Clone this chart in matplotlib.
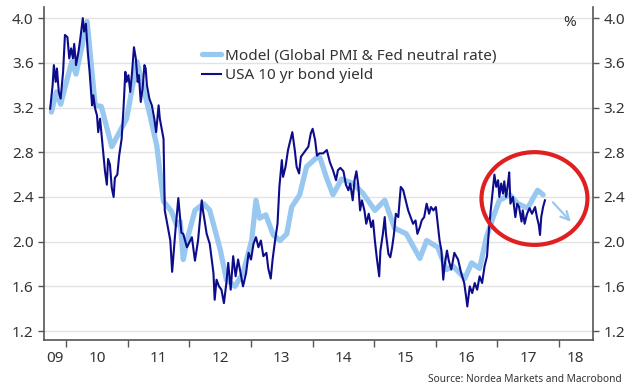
import numpy as np
import matplotlib
matplotlib.use("Agg")
import matplotlib.pyplot as plt
from matplotlib.patches import Ellipse

plt.rcParams['font.family'] = ['Noto Sans', 'DejaVu Sans']

# model line (Global PMI & Fed neutral rate)
model_t = [2009.76, 2009.84, 2009.91, 2010.09, 2010.16, 2010.34, 2010.47, 2010.57,
           2010.74, 2010.98, 2011.15, 2011.36, 2011.47, 2011.58, 2011.71, 2011.79,
           2011.85, 2011.90, 2011.96, 2012.09, 2012.23, 2012.33, 2012.50, 2012.60,
           2012.74, 2012.87, 2013.01, 2013.08, 2013.14, 2013.24, 2013.36, 2013.47,
           2013.58, 2013.66, 2013.79, 2013.90, 2014.06, 2014.12, 2014.22, 2014.33,
           2014.47, 2014.66, 2014.82, 2015.01, 2015.17, 2015.33, 2015.52, 2015.74,
           2015.85, 2016.03, 2016.17, 2016.28, 2016.47, 2016.58, 2016.71, 2016.82,
           2016.93, 2017.03, 2017.20, 2017.33, 2017.49, 2017.65, 2017.74]
model_v = [3.16, 3.34, 3.23, 3.61, 3.50, 3.97, 3.22, 3.21,
           2.85, 3.10, 3.61, 3.13, 2.86, 2.36, 2.27, 2.15,
           2.18, 1.84, 2.01, 2.28, 2.34, 2.28, 1.93, 1.66,
           1.60, 1.72, 2.01, 2.37, 2.21, 2.24, 2.06, 2.01,
           2.07, 2.31, 2.42, 2.67, 2.75, 2.75, 2.58, 2.42,
           2.56, 2.52, 2.43, 2.28, 2.37, 2.12, 2.07, 1.85,
           2.01, 1.95, 1.75, 1.78, 1.67, 1.81, 1.76, 2.04,
           2.22, 2.37, 2.42, 2.34, 2.30, 2.46, 2.42]

# USA 10 yr bond yield
bond_t = [2009.74, 2009.78, 2009.80, 2009.83, 2009.85, 2009.88, 2009.91, 2009.95,
          2009.98, 2010.02, 2010.05, 2010.08, 2010.11, 2010.13, 2010.16, 2010.20,
          2010.23, 2010.27, 2010.29, 2010.32, 2010.35, 2010.38, 2010.40, 2010.42,
          2010.44, 2010.47, 2010.50, 2010.52, 2010.55, 2010.58, 2010.60, 2010.63,
          2010.66, 2010.68, 2010.71, 2010.74, 2010.77, 2010.79, 2010.83, 2010.86,
          2010.90, 2010.93, 2010.96, 2010.98, 2011.01, 2011.04, 2011.07, 2011.10,
          2011.13, 2011.16, 2011.18, 2011.21, 2011.24, 2011.27, 2011.29, 2011.31,
          2011.35, 2011.39, 2011.43, 2011.46, 2011.50, 2011.52, 2011.55, 2011.58,
          2011.60, 2011.69, 2011.72, 2011.77, 2011.82, 2011.87,
          2011.90, 2011.96, 2012.04, 2012.09, 2012.14, 2012.20, 2012.22, 2012.28,
          2012.33, 2012.39, 2012.41, 2012.44, 2012.48, 2012.52, 2012.56, 2012.60,
          2012.63, 2012.67, 2012.71, 2012.75, 2012.79, 2012.83, 2012.87, 2012.92,
          2012.96, 2013.00, 2013.04, 2013.08, 2013.12, 2013.16, 2013.20, 2013.25,
          2013.28, 2013.32, 2013.35, 2013.39, 2013.43, 2013.46, 2013.50, 2013.52,
          2013.56, 2013.60, 2013.64, 2013.67, 2013.71, 2013.74, 2013.78, 2013.81,
          2013.85, 2013.89, 2013.93, 2013.97, 2014.00, 2014.04, 2014.07, 2014.11,
          2014.17, 2014.23, 2014.28, 2014.33, 2014.38, 2014.41, 2014.45, 2014.50,
          2014.54, 2014.58, 2014.61, 2014.65, 2014.68, 2014.71, 2014.74, 2014.77,
          2014.80, 2014.84, 2014.87, 2014.91, 2014.95, 2014.98, 2015.01, 2015.04,
          2015.08, 2015.10, 2015.14, 2015.17, 2015.19, 2015.23, 2015.26, 2015.29,
          2015.32, 2015.35, 2015.39, 2015.43, 2015.47, 2015.51, 2015.55, 2015.59,
          2015.63, 2015.67, 2015.70, 2015.74, 2015.77, 2015.81, 2015.85, 2015.89,
          2015.92, 2015.96, 2016.00, 2016.03, 2016.06, 2016.09, 2016.12, 2016.14,
          2016.18, 2016.21, 2016.25, 2016.30, 2016.36, 2016.41, 2016.46, 2016.49,
          2016.51, 2016.55, 2016.59, 2016.63, 2016.67, 2016.71, 2016.75, 2016.79,
          2016.83, 2016.86, 2016.89, 2016.93, 2016.95, 2016.98, 2017.01, 2017.03,
          2017.06, 2017.09, 2017.11, 2017.14, 2017.17, 2017.19, 2017.21, 2017.25,
          2017.29, 2017.32, 2017.35, 2017.39, 2017.41, 2017.44, 2017.48, 2017.52,
          2017.56, 2017.61, 2017.64, 2017.67, 2017.69, 2017.71, 2017.74, 2017.77]
bond_v = [3.19, 3.40, 3.58, 3.43, 3.55, 3.34, 3.28, 3.52,
          3.85, 3.83, 3.64, 3.73, 3.64, 3.77, 3.58, 3.70,
          3.82, 4.00, 3.88, 3.95, 3.70, 3.52, 3.37, 3.22,
          3.31, 3.19, 3.13, 2.98, 3.10, 2.92, 2.80, 2.63,
          2.51, 2.74, 2.69, 2.48, 2.40, 2.57, 2.60, 2.77,
          2.92, 3.19, 3.52, 3.43, 3.49, 3.34, 3.52, 3.74,
          3.64, 3.43, 3.49, 3.25, 3.37, 3.58, 3.55, 3.40,
          3.28, 3.22, 3.10, 2.98, 3.22, 3.10, 3.01, 2.92,
          2.28, 2.01, 1.73, 2.08, 2.39, 2.08,
          2.07, 1.95, 2.04, 1.83, 2.01, 2.37, 2.28, 2.07,
          1.98, 1.72, 1.48, 1.66, 1.60, 1.57, 1.45, 1.63,
          1.81, 1.57, 1.87, 1.69, 1.84, 1.72, 1.60, 1.72,
          1.90, 1.84, 1.98, 2.04, 1.95, 2.01, 1.87, 1.90,
          1.76, 1.67, 1.84, 2.01, 2.16, 2.49, 2.73, 2.58,
          2.67, 2.82, 2.91, 2.98, 2.82, 2.67, 2.61, 2.76,
          2.79, 2.82, 2.85, 2.97, 3.01, 2.91, 2.77, 2.79,
          2.79, 2.82, 2.71, 2.64, 2.55, 2.64, 2.66, 2.63,
          2.51, 2.46, 2.52, 2.37, 2.55, 2.63, 2.51, 2.28,
          2.37, 2.28, 2.16, 2.25, 2.13, 2.19, 2.01, 1.86,
          1.69, 1.92, 2.07, 2.22, 2.07, 1.89, 1.86, 1.95,
          2.07, 2.25, 2.22, 2.49, 2.46, 2.37, 2.28, 2.22,
          2.16, 2.19, 2.07, 2.13, 2.19, 2.22, 2.34, 2.25,
          2.31, 2.28, 2.31, 2.16, 2.01, 1.92, 1.66, 1.78,
          1.92, 1.83, 1.75, 1.90, 1.84, 1.72, 1.63, 1.51,
          1.42, 1.60, 1.54, 1.63, 1.57, 1.69, 1.63, 1.78,
          1.87, 2.10, 2.28, 2.49, 2.60, 2.49, 2.55, 2.40,
          2.52, 2.43, 2.54, 2.40, 2.52, 2.62, 2.34, 2.40,
          2.22, 2.34, 2.31, 2.18, 2.28, 2.16, 2.25, 2.30,
          2.25, 2.31, 2.22, 2.15, 2.06, 2.22, 2.31, 2.37]

yticks = [1.2, 1.6, 2.0, 2.4, 2.8, 3.2, 3.6, 4.0]
year_labels = ['09', '10', '11', '12', '13', '14', '15', '16', '17', '18']
label_pos = [2009.82, 2010.5, 2011.5, 2012.5, 2013.5, 2014.5, 2015.5, 2016.5, 2017.5, 2018.27]

navy = '#0d0d8c'
light = '#98c8f0'
txt = '#333333'

fig = plt.figure(figsize=(6.36, 3.91), dpi=100)
ax = fig.add_axes([44 / 636, 1 - 340 / 391, (593 - 44) / 636, (340 - 7) / 391])

ax.plot(model_t, model_v, color=light, lw=3.8, solid_capstyle='round',
        solid_joinstyle='round', label='Model (Global PMI & Fed neutral rate)', zorder=3)
ax.plot(bond_t, bond_v, color=navy, lw=1.5, label='USA 10 yr bond yield', zorder=4)

ax.set_xlim(2009.64, 2018.55)
ax.set_ylim(1.12, 4.10)

for y in yticks:
    ax.axhline(y, color='#e3e3e3', lw=1, zorder=0)

ax.set_yticks(yticks)
ax.set_yticklabels([f"{y:.1f}" for y in yticks])
ax.tick_params(axis='y', which='both', left=True, right=True, labelleft=True,
               labelright=True, length=4, width=1, color='#555555',
               labelsize=11, labelcolor=txt, pad=3.5)

ax.set_xticks(range(2010, 2019))
ax.set_xticklabels([])
ax.set_xticks(label_pos, minor=True)
ax.set_xticklabels(year_labels, minor=True)
ax.tick_params(axis='x', which='major', length=5, width=1, color='#555555')
ax.tick_params(axis='x', which='minor', length=0, labelsize=11, labelcolor=txt, pad=8)

for s in ['left', 'right', 'bottom']:
    ax.spines[s].set_color('#555555')
    ax.spines[s].set_linewidth(1.2)
ax.spines['top'].set_visible(False)

ax.text(2018.17, 3.96, '%', fontsize=11, color=txt, ha='center', va='center')

ax.add_patch(Ellipse((2017.60, 2.386), 1.72, 0.83, fill=False,
                     edgecolor='#e02020', lw=3, zorder=5))
ax.annotate('', xy=(2018.22, 2.16), xytext=(2017.87, 2.37),
            arrowprops=dict(arrowstyle='->', color=light, lw=1.6, mutation_scale=15))

ax.legend(loc='upper left', bbox_to_anchor=(0.288, 0.875), frameon=False,
          fontsize=11, handlelength=1.25, handletextpad=0.25, labelspacing=0.3,
          borderpad=0, borderaxespad=0, labelcolor=txt)

fig.text(622 / 636, 1 - 379 / 391, 'Source: Nordea Markets and Macrobond',
         ha='right', va='center', fontsize=7.3, color=txt)

fig.savefig('out.png', dpi=100)
